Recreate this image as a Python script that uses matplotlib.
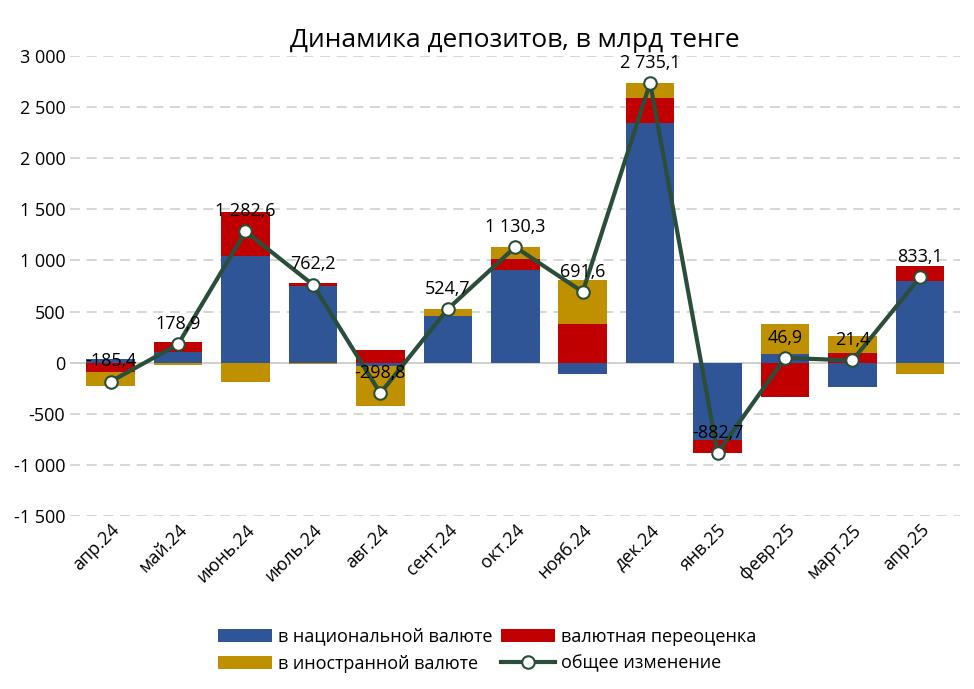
import matplotlib
matplotlib.use("Agg")
import matplotlib.pyplot as plt
import numpy as np

categories = ["апр.24","май.24","июнь.24","июль.24","авг.24","сент.24","окт.24","нояб.24","дек.24","янв.25","февр.25","март.25","апр.25"]
natl = [40, 105, 1045, 750, -30, 460, 905, -115, 2340, -755, 80, -238, 800]
reval = [-90, 95, 428, 28, 125, 0, 110, 376, 252, -128, -335, 95, 144]
fx = [-135, -21, -190, -16, -394, 65, 115, 431, 143, 0, 302, 164, -111]
total = [-185.4, 178.9, 1282.6, 762.2, -298.8, 524.7, 1130.3, 691.6, 2735.1, -882.7, 46.9, 21.4, 833.1]
yticks = [-1500, -1000, -500, 0, 500, 1000, 1500, 2000, 2500, 3000]

plt.rcParams["font.family"] = "Open Sans"
fig = plt.figure(figsize=(9.74, 6.89), dpi=100)
ax = fig.add_axes([0.072, 0.251, 0.914, 0.668])
x = np.arange(len(categories))
w = 0.72
series = [(natl, "#2F5597", "в национальной валюте"),
          (reval, "#C00000", "валютная переоценка"),
          (fx, "#BF9000", "в иностранной валюте")]
pos = np.zeros(len(x)); neg = np.zeros(len(x))
handles = []
for vals, col, lab in series:
    v = np.array(vals, float)
    bottom = np.where(v >= 0, pos, neg)
    h = ax.bar(x, v, w, bottom=bottom, color=col, label=lab, zorder=2)
    handles.append(h)
    pos = pos + np.where(v >= 0, v, 0)
    neg = neg + np.where(v < 0, v, 0)
ln, = ax.plot(x, total, color="#2B4E3A", lw=3, marker="o", ms=9, mfc="white",
              mec="#2B4E3A", mew=1.5, zorder=3, label="общее изменение")
def fmt(v):
    s = f"{abs(v):,.1f}".replace(",", " ").replace(".", ",")
    return ("-" if v < 0 else "") + s
for xi, t in zip(x, total):
    ax.text(xi, t + 110, fmt(t), ha="center", va="bottom", fontsize=13, zorder=4)
ax.set_ylim(-1500, 3000)
ax.set_xlim(-0.6, len(x) - 0.4)
ax.set_yticks(yticks)
ax.set_yticklabels([f"{v:,}".replace(",", " ") for v in yticks], fontsize=13)
ax.yaxis.grid(True, ls=(0, (6, 4)), color="#D0D0D0", lw=1.2, zorder=0)
ax.axhline(0, color="#C8C8C8", lw=1.2, zorder=1)
for s in ax.spines.values():
    s.set_visible(False)
ax.tick_params(axis="both", length=0)
ax.set_xticks(x)
ax.set_xticklabels(categories, rotation=45, ha="right", rotation_mode="anchor", fontsize=13)
ax.set_title("Динамика депозитов, в млрд тенге", fontsize=19, pad=6)
fig.legend([handles[0], handles[2], handles[1], ln],
           ["в национальной валюте", "в иностранной валюте", "валютная переоценка", "общее изменение"],
           loc="lower center", bbox_to_anchor=(0.5, 0.0), ncol=2, frameon=False,
           fontsize=13, handlelength=3, columnspacing=0.5, handletextpad=0.3)
fig.savefig("out.png", dpi=100)
